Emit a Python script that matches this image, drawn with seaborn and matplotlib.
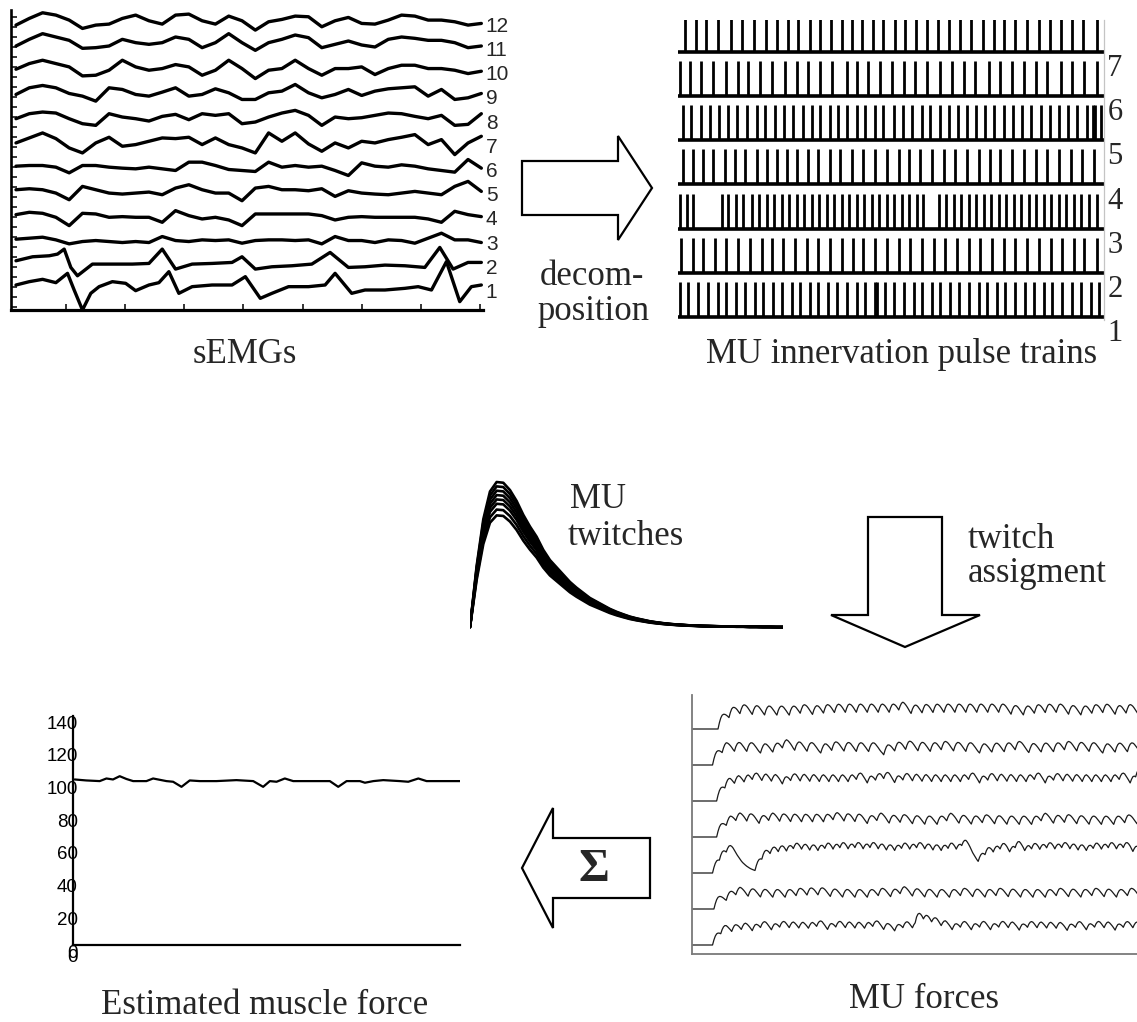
import numpy as np
import pandas as pd
import matplotlib
matplotlib.use("Agg")
import matplotlib.pyplot as plt
from matplotlib.patches import Polygon
from matplotlib.transforms import ScaledTranslation
import seaborn as sns

W, H, DPI = 1137, 1022, 100

# ---------------- sEMG channels (time in ms, amplitude in a.u.) ----------------
SEMG_T = [50, 90, 130, 170, 210, 250, 290, 330, 370, 410, 450, 490, 530, 570, 610, 650,
          690, 730, 770, 810, 850, 890, 930, 970, 1010, 1050, 1090, 1130, 1170, 1210,
          1250, 1290, 1330, 1370, 1410, 1450]
SEMG_12 = [-15, 5, 22, 15, 0, -25, -15, -12, 5, 15, -2, -12, 15, 18, -2, -12, 12, -2, -30, -5,
           2, 12, 10, -20, -2, 8, -10, -12, 0, 15, 12, 0, 0, -5, -15, -10]
SEMG_11 = [-5, 15, 32, 22, 12, -12, -10, -5, 15, 5, 0, 5, 22, 15, -10, 5, 32, 5, -18, 5,
           15, 28, 20, -10, 0, 10, -2, -8, 15, 22, 18, 12, 12, 5, -10, -5]
SEMG_10 = [-2, 15, 25, 15, 5, -22, -20, -5, 25, 5, -5, 0, 12, 5, -20, -5, 25, 0, -30, -5,
           0, 25, 0, -20, 0, 0, 5, -18, 0, 10, 10, 0, 0, -5, -15, -8]
SEMG_9 = [-5, 15, 22, 15, -2, -10, -25, 15, 10, -5, -10, 2, 15, -10, -5, 12, 0, -20, -20, 0,
          5, 25, 0, -15, -5, 10, -8, 5, 12, 15, 18, -10, 10, -20, -15, -2]
SEMG_8 = [-5, 10, 15, 12, -5, -20, -25, 10, 0, -5, -12, 2, 8, -8, 10, 5, 10, -20, -15, 0,
          12, 20, 5, -25, 0, -5, -2, 5, 12, 10, 2, -5, 5, -25, -22, 10]
SEMG_7 = [-5, 10, 25, 8, -20, -35, -5, 12, -15, -10, 0, 10, 8, 12, -10, 10, -10, -20, -35, 25,
          0, 25, -8, -30, -5, -20, 0, -5, 5, 12, 20, -10, 5, -40, -5, 15]
SEMG_6 = [-2, 0, 0, -5, -22, 0, 0, -5, -8, -10, -5, -10, -15, 10, 10, 0, -12, -15, -18, 10,
          -5, 0, -5, -2, -15, -30, 8, -2, -5, 2, -2, -10, -15, -20, 18, -8]
SEMG_5 = [0, 3, 0, -10, -30, 10, 0, -10, -13, -10, -7, -15, 5, 15, 0, -10, -10, -33, 5, 10,
          0, 0, -3, 3, -20, -3, -10, -13, -15, -10, -5, -10, -15, 10, 25, -5]
SEMG_4 = [-2, 5, 2, -10, -35, 2, 0, -10, -8, -10, -10, -25, 10, -5, -15, -10, -18, -35, 0, 0,
          0, 0, 0, -5, -18, -10, -8, -10, -10, -10, -10, -15, -25, 8, -2, -8]
SEMG_3 = [-3, 0, 3, -5, -17, -10, -7, -10, -13, -10, -13, 5, -7, -10, -5, -7, -5, -15, -7, -5,
          -5, -7, -5, -17, 5, -7, -7, -13, -5, -7, -15, 0, 15, -5, -5, -13]
SEMG_2_T = [50, 100, 150, 175, 195, 215, 235, 280, 330, 400, 450, 490, 530, 580, 640, 700,
            730, 770, 820, 880, 940, 995, 1050, 1100, 1160, 1220, 1280, 1325, 1365, 1410, 1450]
SEMG_2 = [5, 17, 20, 25, 40, -15, -40, -5, -5, -5, -3, 40, -20, -5, -3, 0, 17, -20, -13, -10,
          -5, 30, -15, -13, -8, -10, -15, 45, -20, 0, 0]
SEMG_1_T = [50, 90, 130, 170, 205, 225, 250, 275, 300, 340, 380, 410, 450, 480, 510, 540,
            580, 640, 700, 740, 785, 820, 870, 930, 980, 1010, 1060, 1100, 1160, 1220, 1260,
            1300, 1345, 1385, 1420, 1450]
SEMG_1 = [5, 15, 22, 12, 40, -10, -70, -20, 0, 15, 10, -12, 5, 12, 45, -20, 0, 5, 5, 30,
          -35, -20, 0, 0, 5, 40, -20, -10, -10, -5, 0, -10, 75, -45, 0, 5]

# ---------------- MU firing times (ms) ----------------
FIRING_7 = [75, 108, 140, 175, 213, 248, 283, 317, 350, 385, 415, 450, 480, 512, 545, 575, 605,
            640, 670, 703, 735, 768, 800, 832, 865, 898, 932, 967, 1000, 1032, 1065, 1100, 1135,
            1167, 1200, 1235, 1268, 1310]
FIRING_6 = [60, 90, 125, 160, 200, 235, 265, 300, 335, 375, 410, 445, 480, 515, 560, 590, 625,
            660, 695, 730, 765, 800, 838, 875, 910, 945, 985, 1020, 1055, 1090, 1125, 1160,
            1200, 1235, 1270, 1310]
FIRING_5 = [70, 95, 125, 150, 178, 205, 233, 262, 290, 315, 345, 372, 400, 428, 455, 480, 510,
            535, 560, 590, 615, 645, 670, 700, 728, 755, 785, 810, 838, 865, 892, 920, 948, 975,
            1002, 1030, 1058, 1085, 1112, 1140, 1168, 1195, 1222, 1250, 1280, 1296, 1302, 1320]
FIRING_4 = [70, 100, 130, 160, 195, 225, 255, 290, 320, 350, 382, 412, 443, 475, 510, 540, 575,
            610, 645, 680, 715, 745, 780, 815, 850, 885, 920, 955, 990, 1020, 1055, 1090, 1125,
            1160, 1195, 1230, 1265, 1300]
FIRING_3 = [60, 82, 101, 186, 205, 229, 251, 276, 296, 321, 342, 366, 387, 411, 432, 456, 477,
            501, 522, 546, 567, 591, 612, 636, 657, 681, 702, 726, 747, 771, 787, 836, 856, 881,
            901, 926, 946, 971, 991, 1016, 1036, 1061, 1081, 1106, 1126, 1151, 1171, 1196, 1216,
            1241, 1261, 1286, 1310]
FIRING_2 = [65, 100, 130, 165, 200, 235, 270, 305, 335, 370, 405, 440, 475, 510, 545, 580, 610,
            645, 680, 715, 750, 785, 820, 855, 890, 925, 960, 995, 1030, 1065, 1100, 1135, 1170,
            1205, 1240, 1270, 1310]
FIRING_1 = [60, 85, 115, 145, 175, 200, 230, 255, 285, 310, 340, 365, 395, 420, 450, 475, 505,
            530, 560, 590, 615, 645, 652, 675, 700, 730, 760, 785, 815, 840, 870, 895, 925, 955,
            980, 1010, 1035, 1065, 1095, 1120, 1150, 1175, 1205, 1235, 1260, 1290, 1315]

# ---------------- MU twitch profile (4 ms samples, normalised) ----------------
TWITCH_STEP_MS = 4
TWITCH_SHAPE = [0.0, 0.42, 0.74, 0.93, 0.995, 0.99, 0.94, 0.865, 0.77, 0.69, 0.62, 0.53, 0.46,
                0.41, 0.36, 0.31, 0.27, 0.235, 0.20, 0.175, 0.15, 0.125, 0.105, 0.088, 0.072,
                0.06, 0.05, 0.04, 0.033, 0.027, 0.022, 0.018, 0.015, 0.012, 0.010, 0.008, 0.007,
                0.006, 0.005, 0.004, 0.003, 0.003, 0.002, 0.002, 0.001, 0.001, 0.0, 0.0]
TWITCH_PEAKS = [1.0, 0.97, 0.94, 0.91, 0.88, 0.85, 0.81, 0.77]
FORCE_GAIN = 1.48

# ---------------- Estimated muscle force ----------------
FORCE_T = [0.13, 1.03, 2.07, 2.59, 3.10, 3.62, 4.14, 4.66, 5.69, 6.21, 7.24, 7.76, 8.41, 9.05,
           9.83, 11.12, 12.67, 13.97, 14.74, 15.26, 15.78, 16.42, 17.07, 18.62, 19.91, 20.56,
           21.21, 22.24, 22.63, 23.28, 24.05, 25.34, 25.99, 26.77, 27.41, 28.71, 30.0]
FORCE_VAL = [101.2, 100.6, 100.2, 101.8, 101.2, 103.2, 101.5, 100.2, 100.2, 101.8, 100.2, 99.8,
             96.7, 100.6, 100.2, 100.2, 100.8, 100.2, 96.7, 100.2, 99.8, 101.8, 100.2, 100.2,
             100.2, 96.7, 100.2, 100.2, 99.2, 100.2, 100.8, 100.2, 99.8, 101.8, 100.2, 100.2,
             100.2]
FORCE_YTICKS = [0, 20, 40, 60, 80, 100, 120, 140]

TITLES = ["sEMGs", "MU innervation pulse trains", "Estimated muscle force", "MU forces"]

SEMG = {12: (SEMG_T, SEMG_12), 11: (SEMG_T, SEMG_11), 10: (SEMG_T, SEMG_10), 9: (SEMG_T, SEMG_9),
        8: (SEMG_T, SEMG_8), 7: (SEMG_T, SEMG_7), 6: (SEMG_T, SEMG_6), 5: (SEMG_T, SEMG_5),
        4: (SEMG_T, SEMG_4), 3: (SEMG_T, SEMG_3), 2: (SEMG_2_T, SEMG_2), 1: (SEMG_1_T, SEMG_1)}
FIRINGS = {7: FIRING_7, 6: FIRING_6, 5: FIRING_5, 4: FIRING_4, 3: FIRING_3, 2: FIRING_2,
           1: FIRING_1}

sns.set_style("white")
plt.rcParams["font.family"] = ["Liberation Serif", "DejaVu Serif"]
SANS = ["Liberation Sans", "DejaVu Sans"]


def fig_box(left, top, right, bottom):
    return [left / W, 1 - bottom / H, (right - left) / W, (bottom - top) / H]


def fig_xy(x, y):
    return x / W, 1 - y / H


fig = plt.figure(figsize=(W / DPI, H / DPI), dpi=DPI)

# ---- sEMG panel ----
CH_SPACING = 72.7
ax1 = fig.add_axes(fig_box(11, 10, 483, 310))
rows = []
for ch, (t, a) in SEMG.items():
    for ti, ai in zip(t, a):
        rows.append((ch, ti, ai + (ch - 1) * CH_SPACING))
df_semg = pd.DataFrame(rows, columns=["channel", "t", "y"])
sns.lineplot(data=df_semg, x="t", y="y", units="channel", estimator=None, sort=False,
             color="black", lw=2.4, ax=ax1, legend=False)
for ln in ax1.lines:
    ln.set_clip_on(False)
    ln.set_solid_joinstyle("round")
    ln.set_solid_capstyle("round")
ax1.set_xlim(35, 1455)
ax1.set_ylim(-70, 830)
ax1.set_xticks(np.arange(200, 1460, 178))
ax1.set_yticks(np.arange(-60, 830, 30))
ax1.tick_params(direction="in", length=4, width=1.3, labelleft=False, labelbottom=False,
                left=True, bottom=True)
for side in ("top", "right"):
    ax1.spines[side].set_visible(False)
ax1.spines["left"].set_linewidth(1.9)
ax1.spines["bottom"].set_linewidth(2.3)
for s in ("left", "bottom"):
    ax1.spines[s].set_color("black")
ax1.set_xlabel("")
ax1.set_ylabel("")
for ch in SEMG:
    ax1.text(1.006, (ch - 1) * CH_SPACING - 18, str(ch), transform=ax1.get_yaxis_transform(),
             ha="left", va="center", fontsize=15, family=SANS)

# ---- pulse train panel ----
ax2 = fig.add_axes(fig_box(678, 20, 1104, 320))
for mu, times in FIRINGS.items():
    base = mu - 1
    ax2.vlines(times, base, base + 0.79, color="black", lw=2.0)
    ax2.hlines(base, 55, 1330, color="black", lw=2.6)
    ax2.text(1.008, base - 0.38, str(mu), transform=ax2.get_yaxis_transform(),
             ha="left", va="center", fontsize=22)
ax2.set_xlim(55, 1330)
ax2.set_ylim(-0.07, 6.72)
ax2.set_xticks([])
ax2.set_yticks([])
for side in ("top", "left", "bottom"):
    ax2.spines[side].set_visible(False)
ax2.spines["right"].set_color("#c4c4c4")
ax2.spines["right"].set_linewidth(0.9)

# ---- twitch panel ----
ax3 = fig.add_axes(fig_box(470, 474, 783, 630))
shape = np.array(TWITCH_SHAPE)
t_tw = np.arange(len(shape)) * TWITCH_STEP_MS
rows = []
for i, amp in enumerate(TWITCH_PEAKS):
    for ti, si in zip(t_tw, shape):
        rows.append((i, ti, amp * si))
df_tw = pd.DataFrame(rows, columns=["mu", "t", "f"])
sns.lineplot(data=df_tw, x="t", y="f", units="mu", estimator=None, sort=False,
             color="black", lw=1.9, ax=ax3, legend=False)
for ln in ax3.lines:
    ln.set_solid_joinstyle("round")
ax3.set_xlim(0, t_tw[-1])
ax3.set_ylim(-0.02, 1.05)
ax3.set_xticks([])
ax3.set_yticks([])
ax3.set_xlabel("")
ax3.set_ylabel("")
for s in ax3.spines.values():
    s.set_visible(False)
ax3.patch.set_alpha(0)

# ---- estimated muscle force panel ----
ax4 = fig.add_axes(fig_box(73, 716, 460, 945))
sns.lineplot(x=FORCE_T, y=FORCE_VAL, color="black", lw=1.6, ax=ax4)
ax4.set_xlim(0, 30)
ax4.set_ylim(0, 140)
ax4.set_yticks(FORCE_YTICKS)
ax4.set_yticklabels([str(v) for v in FORCE_YTICKS], family=SANS, fontsize=13.5)
ax4.set_xticks(np.arange(0, 31, 5))
ax4.set_xticklabels(["0", "", "", "", "", "", ""], family=SANS, fontsize=13.5)
ax4.tick_params(direction="in", length=4, width=1.2, pad=3, colors="black")
for side in ("top", "right"):
    ax4.spines[side].set_visible(False)
for s in ("left", "bottom"):
    ax4.spines[s].set_linewidth(1.6)
    ax4.spines[s].set_color("black")
shift = ScaledTranslation(9 / DPI, -6 / DPI, fig.dpi_scale_trans)
for lab in ax4.get_yticklabels():
    lab.set_transform(lab.get_transform() + shift)
ax4.set_xlabel("")
ax4.set_ylabel("")

# ---- MU force panel: firing trains convolved with twitch profiles ----
ax5 = fig.add_axes(fig_box(692, 695, 1137, 954))
ROW_SPACING = 3.6
grid = np.arange(0, 1400 + TWITCH_STEP_MS, TWITCH_STEP_MS)
rows = []
for mu, times in FIRINGS.items():
    spikes = np.zeros(len(grid))
    for tf in times:
        spikes[int(round(tf / TWITCH_STEP_MS))] += 1
    force = np.convolve(spikes, shape)[: len(grid)] * TWITCH_PEAKS[7 - mu] * FORCE_GAIN
    for ti, fi in zip(grid, force):
        rows.append((mu, ti, fi + (mu - 1) * ROW_SPACING))
df_f = pd.DataFrame(rows, columns=["mu", "t", "f"])
sns.lineplot(data=df_f, x="t", y="f", units="mu", estimator=None, sort=False,
             color="#1a1a1a", lw=0.9, ax=ax5, legend=False)
ax5.set_xlim(0, 1300)
ax5.set_ylim(-0.9, 25.0)
ax5.set_xticks(np.arange(0, 1300, 250))
ax5.set_yticks([(mu - 1) * ROW_SPACING + 1.8 for mu in FIRINGS])
ax5.tick_params(direction="in", length=4, width=1.0, colors="#7a7a7a",
                labelleft=False, labelbottom=False)
for side in ("top", "right"):
    ax5.spines[side].set_visible(False)
for s in ("left", "bottom"):
    ax5.spines[s].set_color("#7a7a7a")
    ax5.spines[s].set_linewidth(1.3)
ax5.set_xlabel("")
ax5.set_ylabel("")


# ---- block arrows ----
def block_arrow(points):
    poly = Polygon([fig_xy(x, y) for x, y in points], closed=True, transform=fig.transFigure,
                   facecolor="white", edgecolor="black", lw=1.6, joinstyle="miter")
    fig.add_artist(poly)


block_arrow([(522, 161), (618, 161), (618, 136), (652, 188), (618, 240), (618, 215), (522, 215)])
block_arrow([(868, 517), (942, 517), (942, 615), (980, 615), (905, 647), (831, 615), (868, 615)])
block_arrow([(650, 838), (553, 838), (553, 808), (522, 868), (553, 928), (553, 898), (650, 898)])


# ---- captions ----
def label(x, y, s, **kw):
    kw.setdefault("fontsize", 25)
    fig.text(*fig_xy(x, y), s, **kw)


label(245, 363, TITLES[0], ha="center", va="baseline")
label(902, 363, TITLES[1], ha="center", va="baseline")
label(265, 1014, TITLES[2], ha="center", va="baseline")
label(924, 1008, TITLES[3], ha="center", va="baseline")
label(540, 285, "decom-", ha="left", va="baseline")
label(538, 320, "position", ha="left", va="baseline")
label(570, 508, "MU", ha="left", va="baseline")
label(568, 545, "twitches", ha="left", va="baseline")
label(968, 548, "twitch", ha="left", va="baseline")
label(968, 582, "assigment", ha="left", va="baseline")
label(594, 870, "Σ", ha="center", va="center", fontsize=34, fontweight="bold")

fig.savefig("out.png", dpi=DPI, facecolor="white")
